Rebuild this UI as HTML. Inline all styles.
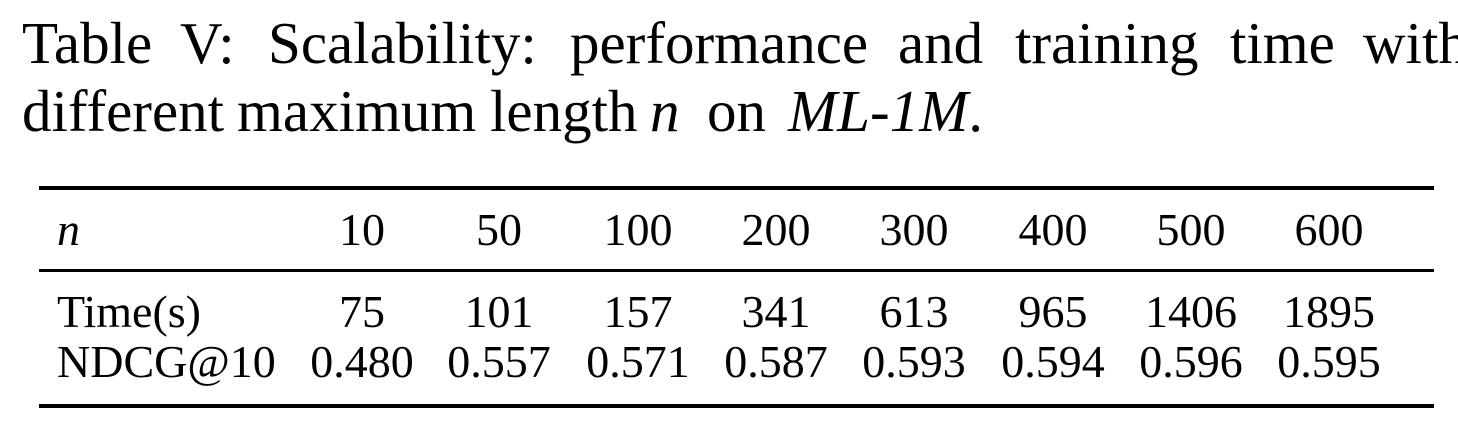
<!DOCTYPE html>
<html><head><meta charset="utf-8"><style>
html,body{margin:0;padding:0;background:#fff;}
svg{display:block;}
text{font-family:"Liberation Serif",serif;fill:#000;}
</style></head><body>
<svg width="1458" height="422" viewBox="0 0 1458 422" xmlns="http://www.w3.org/2000/svg">
<g font-size="59">
<text x="22" y="63">Table</text>
<text x="180" y="63">V:</text>
<text x="268" y="63">Scalability:</text>
<text x="570" y="63">performance</text>
<text x="898" y="63">and</text>
<text x="1015" y="63">training</text>
<text x="1230" y="63">time</text>
<text x="1363" y="63">with</text>
<text x="22" y="131">different</text>
<text x="237" y="131">maximum</text>
<text x="490" y="131">length</text>
<text x="650" y="131" font-style="italic">n</text>
<text x="707" y="131">on</text>
<text x="788" y="131"><tspan font-style="italic">ML-1M</tspan>.</text>
</g>
<rect x="39" y="186" width="1395" height="4" fill="#000"/>
<rect x="39" y="269" width="1395" height="3" fill="#000"/>
<rect x="39" y="404" width="1395" height="4" fill="#000"/>
<g font-size="46">
<text x="57" y="245" font-style="italic">n</text>
<text x="57" y="327">Time(s)</text>
<text x="57" y="377">NDCG@10</text>
<g text-anchor="middle">
<text x="362" y="245">10</text><text x="499" y="245">50</text><text x="638" y="245">100</text><text x="776" y="245">200</text><text x="914" y="245">300</text><text x="1053" y="245">400</text><text x="1191" y="245">500</text><text x="1329" y="245">600</text>
<text x="362" y="327">75</text><text x="499" y="327">101</text><text x="638" y="327">157</text><text x="776" y="327">341</text><text x="914" y="327">613</text><text x="1053" y="327">965</text><text x="1191" y="327">1406</text><text x="1329" y="327">1895</text>
<text x="362" y="377">0.480</text><text x="499" y="377">0.557</text><text x="638" y="377">0.571</text><text x="776" y="377">0.587</text><text x="914" y="377">0.593</text><text x="1053" y="377">0.594</text><text x="1191" y="377">0.596</text><text x="1329" y="377">0.595</text>
</g>
</g>
</svg>
</body></html>
